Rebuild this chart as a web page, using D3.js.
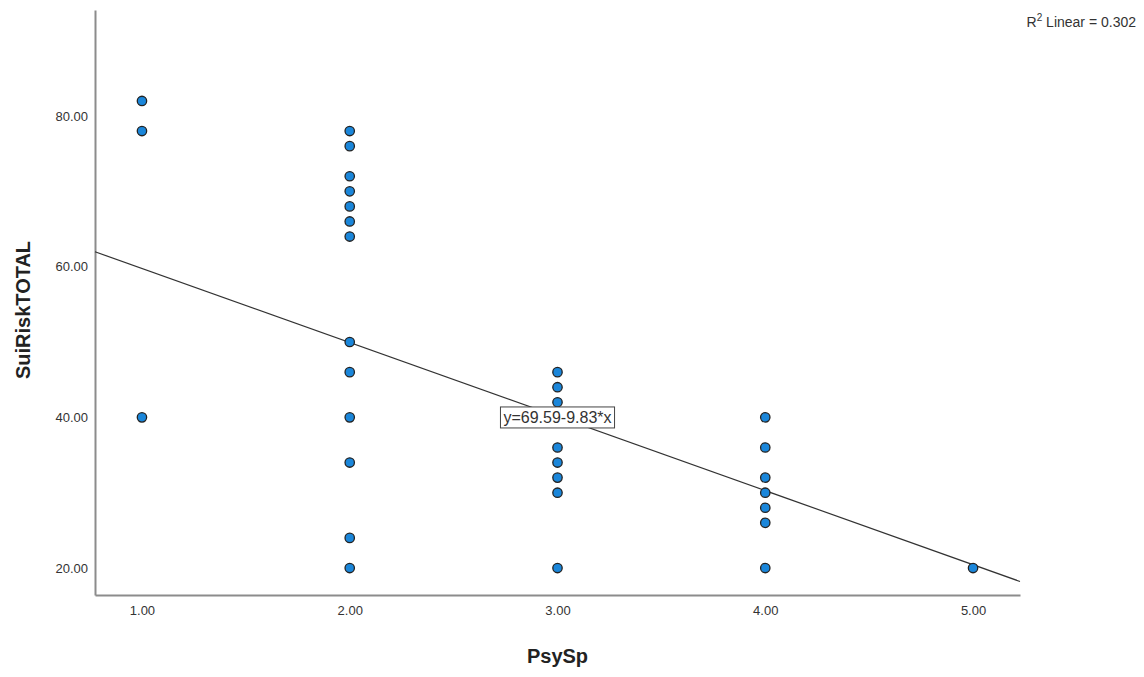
<!DOCTYPE html>
<html>
<head>
<meta charset="utf-8">
<script src="https://cdn.jsdelivr.net/npm/d3@7"></script>
<style>
  body { margin: 0; background: #fff; }
  svg { font-family: Arial, "Liberation Sans", sans-serif; }
</style>
</head>
<body>
<div id="scatter"></div>
<script>
// PsySp vs SuiRiskTOTAL observations
const psySp = [1, 1, 1,
    2, 2, 2, 2, 2, 2, 2, 2, 2, 2, 2, 2, 2,
    3, 3, 3, 3, 3, 3, 3, 3, 3,
    4, 4, 4, 4, 4, 4, 4,
    5];
const suiRisk = [82, 78, 40,
    78, 76, 72, 70, 68, 66, 64, 50, 46, 40, 34, 24, 20,
    46, 44, 42, 40, 36, 34, 32, 30, 20,
    40, 36, 32, 30, 28, 26, 20,
    20];
const xTicks = [1, 2, 3, 4, 5];
const yTicks = [20, 40, 60, 80];
const fit = { intercept: 69.59, slope: -9.83, r2: 0.302 };

const drawScatter = () => {
    const width = 1144;
    const height = 677;
    const margin = { top: 10, right: 124, bottom: 82, left: 95 };
    const innerWidth = width - margin.left - margin.right;
    const innerHeight = height - margin.top - margin.bottom;

    const xScale = d3.scaleLinear()
        .domain([0.774, 5.226])
        .range([0, innerWidth]);

    const yScale = d3.scaleLinear()
        .domain([16.42, 94.07])
        .range([innerHeight, 0]);

    const svg = d3.select("#scatter")
        .append("svg")
        .attr("width", width)
        .attr("height", height);

    const innerChart = svg.append("g")
        .attr("transform", `translate(${margin.left},${margin.top})`);

    // axes with no tick marks, SPSS style
    const bottomAxis = d3.axisBottom(xScale)
        .tickValues(xTicks)
        .tickSize(0)
        .tickPadding(11)
        .tickFormat(d3.format(".2f"));
    const leftAxis = d3.axisLeft(yScale)
        .tickValues(yTicks)
        .tickSize(0)
        .tickPadding(7)
        .tickFormat(d3.format(".2f"));

    const gx = innerChart.append("g")
        .attr("transform", `translate(0,${innerHeight})`)
        .call(bottomAxis);
    const gy = innerChart.append("g")
        .call(leftAxis);

    [gx, gy].forEach(g => {
        g.select(".domain").attr("stroke", "#8c8c8c").attr("stroke-width", 2);
        g.selectAll("text").attr("fill", "#333").style("font-size", "13px");
    });

    // regression line
    const xd = xScale.domain();
    innerChart.append("line")
        .attr("x1", xScale(xd[0]))
        .attr("y1", yScale(fit.intercept + fit.slope * xd[0]))
        .attr("x2", xScale(xd[1]))
        .attr("y2", yScale(fit.intercept + fit.slope * xd[1]))
        .attr("stroke", "#333")
        .attr("stroke-width", 1.2);

    // points
    innerChart.selectAll("circle")
        .data(psySp.map((x, i) => ({ x: x, y: suiRisk[i] })))
        .join("circle")
            .attr("cx", d => xScale(d.x))
            .attr("cy", d => yScale(d.y))
            .attr("r", 4.7)
            .attr("fill", "#1a86da")
            .attr("stroke", "#222")
            .attr("stroke-width", 1.3);

    // equation label box
    const lx = xScale(3), ly = yScale(40);
    const label = innerChart.append("g")
        .attr("transform", `translate(${lx},${ly})`);
    const eqText = label.append("text")
        .attr("text-anchor", "middle")
        .attr("dy", "0.35em")
        .attr("fill", "#333")
        .style("font-size", "16px")
        .text(`y=${fit.intercept.toFixed(2)}-${Math.abs(fit.slope).toFixed(2)}*x`);
    const bb = eqText.node().getBBox();
    label.insert("rect", "text")
        .attr("x", bb.x - 3)
        .attr("y", bb.y - 2)
        .attr("width", bb.width + 6)
        .attr("height", bb.height + 4)
        .attr("fill", "#fff")
        .attr("stroke", "#444")
        .attr("stroke-width", 1);

    // axis titles
    svg.append("text")
        .attr("x", margin.left + xScale(3))
        .attr("y", 663)
        .attr("text-anchor", "middle")
        .attr("fill", "#222")
        .style("font-size", "20px")
        .style("font-weight", "bold")
        .text("PsySp");

    svg.append("text")
        .attr("transform", `translate(30,310) rotate(-90)`)
        .attr("text-anchor", "middle")
        .attr("fill", "#222")
        .style("font-size", "20px")
        .style("font-weight", "bold")
        .text("SuiRiskTOTAL");

    // R squared note
    const r2 = svg.append("text")
        .attr("x", 1136)
        .attr("y", 27)
        .attr("text-anchor", "end")
        .attr("fill", "#333")
        .style("font-size", "14px");
    r2.append("tspan").text("R");
    r2.append("tspan").attr("dy", -6).style("font-size", "10px").text("2");
    r2.append("tspan").attr("dy", 6).text(` Linear = ${fit.r2.toFixed(3)}`);
};

drawScatter();
</script>
</body>
</html>
